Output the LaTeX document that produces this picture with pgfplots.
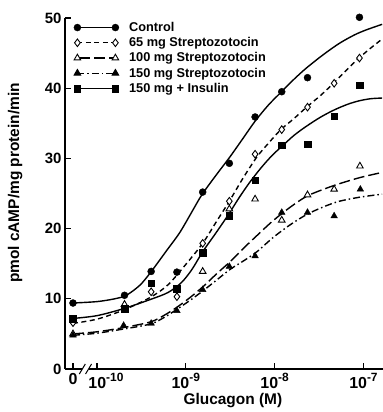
\documentclass[border=0pt]{standalone}
\usepackage{pgfplots}
\pgfplotsset{compat=1.18}
\usepackage{fontspec}
\setmainfont{Liberation Sans}
\newcommand{\ex}[1]{\raisebox{0.42em}{\fontsize{12}{13}\selectfont #1}}
\pgfplotsset{
  lgc/.style={legend image code/.code={%
    \draw[line width=1.4bp,solid] (0bp,0bp)--(38bp,0bp);
    \fill[black] (0bp,0bp) circle (3.5bp);
    \fill[black] (38bp,0bp) circle (3.5bp);}},
  lgd/.style={legend image code/.code={%
    \draw[line width=1.4bp,dash pattern=on 5bp off 3.5bp] (0bp,0bp)--(38bp,0bp);
    \draw[solid,fill=white,line width=0.9bp] plot[only marks,mark=diamond*,mark size=3.8bp] coordinates {(0bp,0bp) (38bp,0bp)};}},
  lgt/.style={legend image code/.code={%
    \draw[line width=1.4bp,dash pattern=on 11bp off 4bp] (2bp,0bp)--(38bp,0bp);
    \draw[solid,fill=white,line width=0.9bp] plot[only marks,mark=triangle*,mark size=3.8bp] coordinates {(0bp,0bp) (38bp,0bp)};}},
  lgf/.style={legend image code/.code={%
    \draw[line width=1.4bp,dash pattern=on 7bp off 3bp on 1.5bp off 3bp] (0bp,0bp)--(38bp,0bp);
    \draw[solid,fill=black,line width=0.9bp] plot[only marks,mark=triangle*,mark size=3.8bp] coordinates {(0bp,0bp) (38bp,0bp)};}},
  lgs/.style={legend image code/.code={%
    \draw[line width=1.4bp,solid] (0bp,0bp)--(38bp,0bp);
    \draw[solid,fill=black] plot[only marks,mark=square*,mark size=3.3bp] coordinates {(0bp,0bp) (38bp,0bp)};}},
}
\begin{document}
\begin{tikzpicture}
\useasboundingbox (-65bp,-43bp) rectangle (318bp,369bp);
\begin{axis}[
  scale only axis, width=318bp, height=351bp,
  xmin=-10.36, xmax=-6.78, ymin=0, ymax=50,
  axis x line*=bottom, axis y line*=left,
  axis line style={line width=1.4bp},
  tick align=inside, major tick length=6bp,
  tick style={line width=1.3bp, black},
  xtick={-10.27,-10,-9,-8,-7},
  xticklabels={0,\hspace*{18bp}10\ex{-10},10\ex{-9},10\ex{-8},10\ex{-7}},
  ytick={0,10,20,30,40,50},
  /pgf/number format/assume math mode=true,
  yticklabel style={font=\bfseries\fontsize{15}{17}\selectfont},
  xticklabel style={font=\bfseries\fontsize{16}{18}\selectfont, yshift=-1bp},
  xlabel={Glucagon (M)}, ylabel={pmol cAMP/mg protein/min},
  label style={font=\bfseries\fontsize{15.5}{18}\selectfont},
  xlabel style={at={(rel axis cs:0.528,-0.09)}, anchor=center},
  ylabel style={at={(rel axis cs:-0.157,0.53)}, anchor=center},
  clip=false,
  legend cell align=left,
  legend style={at={(rel axis cs:0,1)}, anchor=north west, xshift=8.5bp, yshift=-2bp,
    draw=none, fill=none, inner sep=0pt, row sep=0.5bp,
    font=\bfseries\fontsize{12.8}{14}\selectfont,
    /tikz/every odd column/.append style={column sep=8bp}},
]
% fitted curves
\addplot[forget plot, smooth, black, line width=1.4bp] coordinates {
(-10.27,9.4) (-10.0,9.6) (-9.8,10.0) (-9.67,10.5) (-9.52,11.9) (-9.40,13.7) (-9.22,16.8) (-9.07,19.4) (-8.94,22.2) (-8.82,24.8) (-8.66,27.6) (-8.51,30.1) (-8.37,32.6) (-8.22,35.3) (-8.07,37.6) (-7.93,39.4) (-7.78,41.3) (-7.64,42.9) (-7.45,44.8) (-7.27,46.4) (-7.1,47.6) (-6.97,48.3) (-6.79,49.1)};
\addplot[forget plot, smooth, black, line width=1.4bp, dash pattern=on 5bp off 3.5bp] coordinates {
(-10.27,6.5) (-10.0,7.1) (-9.7,8.4) (-9.4,10.2) (-9.2,12.0) (-9.0,14.9) (-8.81,17.9) (-8.66,20.9) (-8.51,23.9) (-8.36,27.1) (-8.2,30.2) (-8.06,32.3) (-7.93,34.1) (-7.78,35.7) (-7.64,37.3) (-7.48,39.0) (-7.33,40.8) (-7.19,42.6) (-7.05,44.3) (-6.92,45.7) (-6.79,47.0)};
\addplot[forget plot, smooth, black, line width=1.4bp, dash pattern=on 11bp off 4bp] coordinates {
(-10.27,5.0) (-10.0,5.3) (-9.7,5.9) (-9.4,6.7) (-9.25,7.6) (-9.1,8.8) (-8.95,10.2) (-8.8,11.8) (-8.65,13.6) (-8.5,15.3) (-8.35,17.2) (-8.2,19.0) (-8.02,21.1) (-7.83,23.0) (-7.64,24.6) (-7.45,25.6) (-7.27,26.4) (-7.03,27.3) (-6.79,28.0)};
\addplot[forget plot, smooth, black, line width=1.4bp, dash pattern=on 7bp off 3bp on 1.5bp off 3bp] coordinates {
(-10.27,4.8) (-10.0,5.1) (-9.7,5.7) (-9.4,6.4) (-9.25,7.3) (-9.1,8.5) (-8.95,9.8) (-8.8,11.2) (-8.65,12.7) (-8.5,14.2) (-8.35,15.4) (-8.2,16.7) (-8.02,18.7) (-7.83,20.5) (-7.64,22.0) (-7.45,23.1) (-7.27,23.9) (-7.03,24.5) (-6.79,24.9)};
\addplot[forget plot, smooth, black, line width=1.4bp] coordinates {
(-10.27,7.2) (-10.0,7.6) (-9.7,8.6) (-9.4,9.9) (-9.2,10.9) (-9.05,12.3) (-8.93,14.2) (-8.81,16.7) (-8.66,19.4) (-8.52,22.0) (-8.4,24.4) (-8.28,26.6) (-8.15,28.7) (-8.03,30.4) (-7.92,31.7) (-7.78,33.3) (-7.64,34.6) (-7.48,35.9) (-7.33,36.9) (-7.18,37.7) (-7.05,38.2) (-6.92,38.5) (-6.79,38.6)};
% data points
\addplot[lgc, only marks, mark=*, mark size=3.5bp, black] coordinates {
(-10.27,9.4) (-9.69,10.5) (-9.39,13.9) (-9.10,13.8) (-8.81,25.2) (-8.51,29.3) (-8.22,35.9) (-7.92,39.5) (-7.63,41.5) (-7.045,50.1)};
\addlegendentry{Control}
\addplot[lgd, only marks, mark=diamond*, mark size=3.8bp, black, mark options={fill=white, line width=0.9bp}] coordinates {
(-10.27,6.6) (-9.39,11.0) (-9.10,10.3) (-8.81,17.9) (-8.51,23.9) (-8.22,30.6) (-7.92,34.1) (-7.63,37.3) (-7.33,40.7) (-7.045,44.3)};
\addlegendentry{65 mg Streptozotocin}
\addplot[lgt, only marks, mark=triangle*, mark size=3.8bp, black, mark options={fill=white, line width=0.9bp}] coordinates {
(-10.27,5.0) (-9.69,9.2) (-8.81,13.9) (-8.51,22.8) (-8.22,24.2) (-7.92,21.2) (-7.63,24.8) (-7.33,25.6) (-7.04,28.9)};
\addlegendentry{100 mg Streptozotocin}
\addplot[lgf, only marks, mark=triangle*, mark size=3.8bp, black] coordinates {
(-10.27,4.8) (-9.70,6.2) (-9.39,6.5) (-9.10,8.3) (-8.81,11.3) (-8.51,14.6) (-8.22,16.1) (-7.92,22.3) (-7.63,22.3) (-7.33,21.8) (-7.035,25.6)};
\addlegendentry{150 mg Streptozotocin}
\addplot[lgs, only marks, mark=square*, mark size=3.3bp, black] coordinates {
(-10.27,7.2) (-9.69,8.6) (-9.39,12.2) (-9.10,11.4) (-8.81,16.6) (-8.51,21.8) (-8.22,26.9) (-7.92,31.9) (-7.63,32.0) (-7.33,36.0) (-7.045,40.4)};
\addlegendentry{150 mg + Insulin}
\coordinate (b1) at (axis cs:-10.165,0);
\coordinate (b2) at (axis cs:-10.095,0);
\end{axis}
\fill[white] ([yshift=-2bp]b1) rectangle ([yshift=2bp]b2);
\draw[line width=1bp] ([shift={(-3bp,-5bp)}]b1) -- ([shift={(3bp,5bp)}]b1);
\draw[line width=1bp] ([shift={(-3bp,-5bp)}]b2) -- ([shift={(3bp,5bp)}]b2);
\end{tikzpicture}
\end{document}
